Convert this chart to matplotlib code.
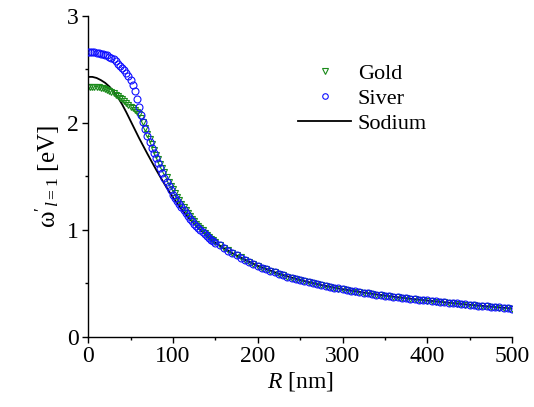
import numpy as np
import matplotlib
matplotlib.use("Agg")
import matplotlib.pyplot as plt
from matplotlib.lines import Line2D
from matplotlib.ticker import MultipleLocator

plt.rcParams['font.family'] = ['Liberation Serif', 'DejaVu Serif']
plt.rcParams['mathtext.fontset'] = 'custom'
plt.rcParams['mathtext.rm'] = 'Liberation Serif'
plt.rcParams['mathtext.it'] = 'Liberation Serif:italic'

# radius grid for the computed metal curves [nm]
R_m = [0, 2.5, 5, 7.5, 10, 12.5, 15, 17.5, 20, 22.5,
       25, 27.5, 30, 32.5, 35, 37.5, 40, 42.5, 45, 47.5,
       50, 52.5, 55, 57.5, 60, 62.5, 65, 67.5, 70, 72.5,
       75, 77.5, 80, 82.5, 85, 87.5, 90, 92.5, 95, 97.5,
       100, 102.5, 105, 107.5, 110, 112.5, 115, 117.5, 120, 122.5,
       125, 127.5, 130, 132.5, 135, 137.5, 140, 142.5, 145, 147.5,
       150, 155, 160, 165, 170, 175, 180, 185, 190, 195,
       200, 205, 210, 215, 220, 225, 230, 235, 240, 245,
       250, 255, 260, 265, 270, 275, 280, 285, 290, 295,
       300, 305, 310, 315, 320, 325, 330, 335, 340, 345,
       350, 355, 360, 365, 370, 375, 380, 385, 390, 395,
       400, 405, 410, 415, 420, 425, 430, 435, 440, 445,
       450, 455, 460, 465, 470, 475, 480, 485, 490, 495, 500]

# silver (circles)
silver = [2.66, 2.66, 2.66, 2.658, 2.655, 2.652, 2.648, 2.643, 2.637, 2.63,
          2.62, 2.607, 2.593, 2.575, 2.555, 2.535, 2.512, 2.49, 2.467, 2.44,
          2.405, 2.355, 2.295, 2.225, 2.15, 2.075, 2.005, 1.94, 1.88, 1.825,
          1.77, 1.72, 1.67, 1.625, 1.58, 1.535, 1.49, 1.45, 1.41, 1.37,
          1.33, 1.30, 1.27, 1.24, 1.21, 1.182, 1.155, 1.13, 1.105, 1.082,
          1.06, 1.04, 1.02, 1.00, 0.98, 0.962, 0.945, 0.927, 0.91, 0.895,
          0.88, 0.855, 0.83, 0.805, 0.783, 0.762, 0.741, 0.722, 0.703, 0.684,
          0.665, 0.648, 0.632, 0.617, 0.603, 0.590, 0.577, 0.565, 0.553, 0.542,
          0.532, 0.522, 0.512, 0.503, 0.494, 0.485, 0.477, 0.469, 0.461, 0.454,
          0.447, 0.440, 0.433, 0.427, 0.421, 0.415, 0.409, 0.403, 0.397, 0.392,
          0.387, 0.382, 0.377, 0.372, 0.367, 0.362, 0.358, 0.354, 0.349, 0.345,
          0.341, 0.337, 0.333, 0.329, 0.325, 0.321, 0.317, 0.313, 0.309, 0.305,
          0.301, 0.2975, 0.294, 0.2905, 0.287, 0.2835, 0.280, 0.2765, 0.273, 0.2695, 0.266]

# gold (triangles)
gold = [2.34, 2.34, 2.34, 2.338, 2.335, 2.333, 2.33, 2.325, 2.32, 2.31,
        2.30, 2.29, 2.28, 2.265, 2.25, 2.235, 2.22, 2.205, 2.19, 2.17,
        2.15, 2.135, 2.12, 2.10, 2.08, 2.05, 2.01, 1.955, 1.90, 1.85,
        1.80, 1.75, 1.70, 1.66, 1.62, 1.58, 1.54, 1.495, 1.45, 1.415,
        1.38, 1.345, 1.31, 1.277, 1.245, 1.215, 1.185, 1.157, 1.13, 1.105,
        1.08, 1.057, 1.035, 1.015, 0.995, 0.975, 0.955, 0.937, 0.92, 0.904,
        0.888, 0.860, 0.834, 0.809, 0.786, 0.764, 0.743, 0.723, 0.704, 0.685,
        0.666, 0.648, 0.632, 0.617, 0.603, 0.589, 0.576, 0.564, 0.552, 0.541,
        0.530, 0.520, 0.510, 0.501, 0.492, 0.483, 0.475, 0.467, 0.459, 0.452,
        0.445, 0.438, 0.431, 0.425, 0.419, 0.413, 0.407, 0.401, 0.395, 0.390,
        0.385, 0.380, 0.375, 0.370, 0.365, 0.360, 0.356, 0.352, 0.347, 0.343,
        0.339, 0.335, 0.331, 0.327, 0.323, 0.319, 0.315, 0.311, 0.307, 0.303,
        0.299, 0.2955, 0.292, 0.2885, 0.285, 0.2815, 0.278, 0.2745, 0.271, 0.2675, 0.264]

# sodium (line), 5 nm steps
R_na = [0, 5, 10, 15, 20, 25, 30, 35, 40, 45,
        50, 55, 60, 65, 70, 75, 80, 85, 90, 95,
        100, 105, 110, 115, 120, 125, 130, 135, 140, 145,
        150, 160, 170, 180, 190, 200, 225, 250, 275, 300,
        325, 350, 375, 400, 425, 450, 475, 500]
sodium = [2.43, 2.43, 2.42, 2.40, 2.375, 2.34, 2.295, 2.24, 2.175, 2.10,
          2.02, 1.94, 1.86, 1.785, 1.71, 1.638, 1.566, 1.497, 1.43, 1.365,
          1.305, 1.25, 1.195, 1.145, 1.10, 1.058, 1.018, 0.98, 0.945, 0.91,
          0.88, 0.83, 0.783, 0.741, 0.703, 0.665, 0.590, 0.532, 0.485, 0.447,
          0.415, 0.387, 0.362, 0.341, 0.321, 0.301, 0.2835, 0.266]

labels = ['Gold', 'Siver', 'Sodium']

fig = plt.figure(figsize=(5.34, 4.07), dpi=100)
ax = fig.add_axes([0.165, 0.172, 0.794, 0.789])

ax.plot(R_na, sodium, color='black', lw=1.3, zorder=1)
ax.plot(R_m, gold, ls='none', marker='v', ms=4.8, mfc='none', mec='#1a8a1a', mew=0.8, zorder=2)
ax.plot(R_m, silver, ls='none', marker='o', ms=5.0, mfc='none', mec='#1010ff', mew=0.8, zorder=3)

ax.set_xlim(0, 500)
ax.set_ylim(0, 3)
ax.xaxis.set_major_locator(MultipleLocator(100))
ax.xaxis.set_minor_locator(MultipleLocator(50))
ax.yaxis.set_major_locator(MultipleLocator(1))
ax.yaxis.set_minor_locator(MultipleLocator(0.5))
for s in ['top', 'right']:
    ax.spines[s].set_visible(False)
for s in ['left', 'bottom']:
    ax.spines[s].set_linewidth(1.0)
ax.tick_params(which='major', direction='out', length=4.5, width=1.0, labelsize=17, pad=2)
ax.tick_params(which='minor', direction='out', length=2.5, width=1.0)

ax.set_xlabel(r'$\mathit{R}$ [nm]', fontsize=17, labelpad=2)
ax.set_ylabel(r"$\mathrm{\omega}'_{\mathit{l}\mathrm{=1}}$ [eV]", fontsize=18, labelpad=4)

handles = [
    Line2D([], [], ls='none', marker='v', ms=4, mfc='none', mec='#1a8a1a', mew=0.8),
    Line2D([], [], ls='none', marker='o', ms=4, mfc='none', mec='#1010ff', mew=0.8),
    Line2D([], [], color='black', lw=1.3),
]
ax.legend(handles, labels, loc='center left', bbox_to_anchor=(0.495, 0.742),
          frameon=False, fontsize=16, borderpad=0, borderaxespad=0,
          handlelength=2.4, handletextpad=0.3, labelspacing=0.2, numpoints=1)

fig.savefig('out.png', dpi=100)
